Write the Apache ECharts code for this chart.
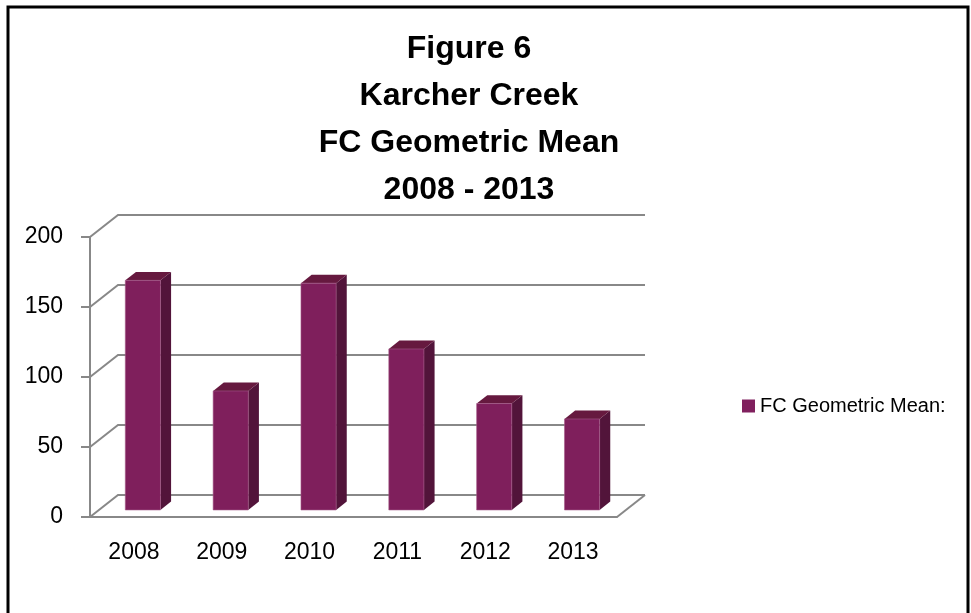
<!DOCTYPE html>
<meta charset="utf-8">
<style>
html, body { margin: 0; padding: 0; background: #fff; }
#main { width: 971px; height: 613px; }
</style>
<div id="main"></div>
<script src="https://cdn.jsdelivr.net/npm/echarts@6/dist/echarts.min.js"></script>
<script>

var years = ['2008', '2009', '2010', '2011', '2012', '2013'];
var fcMean = [164, 85, 162, 115, 76, 65];
var yTicks = [0, 50, 100, 150, 200];

// fake 3d: depth of the plot box in px, bar sits in the middle of it
var DX = 28, DY = -22;
var BAR_FROM = 0.32, BAR_DEPTH = 0.38;
var GRID_COLOR = '#888888';
var FONT = '"Liberation Sans", Arial, sans-serif';

function renderWall(params, api) {
    var v = api.value(1);
    var y = api.coord([0, v])[1];
    var cs = params.coordSys;
    var x0 = cs.x, x1 = cs.x + cs.width;
    var children = [{
        type: 'polyline',
        shape: { points: [[x0, y], [x0 + DX, y + DY], [x1 + DX, y + DY]] },
        style: { stroke: GRID_COLOR, lineWidth: 2, fill: null }
    }];
    if (v === 0) {
        children.push({
            type: 'line',
            shape: { x1: x1, y1: y, x2: x1 + DX, y2: y + DY },
            style: { stroke: GRID_COLOR, lineWidth: 2 }
        });
    }
    return { type: 'group', children: children };
}

function renderBar(params, api) {
    var i = api.value(0), v = api.value(1);
    var base = api.coord([i, 0]);
    var top = api.coord([i, v]);
    var band = api.size([1, 0])[0];
    var w = band * 0.4;
    var fx = base[0] + DX * BAR_FROM - w / 2;
    var fy0 = base[1] + DY * BAR_FROM;
    var fy1 = top[1] + DY * BAR_FROM;
    var bx = DX * BAR_DEPTH, by = DY * BAR_DEPTH;
    return {
        type: 'group',
        children: [{
            type: 'polygon',
            shape: { points: [[fx + w, fy1], [fx + w + bx, fy1 + by], [fx + w + bx, fy0 + by], [fx + w, fy0]] },
            style: { fill: '#52143a' }
        }, {
            type: 'polygon',
            shape: { points: [[fx, fy1], [fx + bx, fy1 + by], [fx + w + bx, fy1 + by], [fx + w, fy1]] },
            style: { fill: '#66193f' }
        }, {
            type: 'rect',
            shape: { x: fx, y: fy1, width: w, height: fy0 - fy1 },
            style: { fill: '#7f1f5c', stroke: '#a45a88', lineWidth: 0.6 }
        }]
    };
}

var chart = echarts.init(document.getElementById('main'));

chart.setOption({
    animation: false,
    backgroundColor: '#fff',
    title: {
        text: 'Figure 6\nKarcher Creek\nFC Geometric Mean\n2008 - 2013',
        left: 469,
        top: 26,
        textAlign: 'center',
        padding: 0,
        textStyle: {
            fontFamily: FONT,
            fontWeight: 'bold',
            fontSize: 32,
            lineHeight: 47,
            color: '#000'
        }
    },
    legend: {
        data: ['FC Geometric Mean:'],
        left: 742,
        top: 396,
        padding: 0,
        icon: 'rect',
        itemWidth: 13,
        itemHeight: 13,
        textStyle: { fontFamily: FONT, fontSize: 20, color: '#000' }
    },
    grid: {
        left: 90,
        right: 354,
        top: 237,
        bottom: 96
    },
    xAxis: {
        type: 'category',
        data: years,
        axisLine: { lineStyle: { color: GRID_COLOR, width: 2 } },
        axisTick: { length: 8, lineStyle: { color: GRID_COLOR, width: 2 } },
        axisLabel: { margin: 24, fontFamily: FONT, fontSize: 23, color: '#000' },
        splitLine: { show: false }
    },
    yAxis: {
        type: 'value',
        min: 0,
        max: 200,
        interval: 50,
        axisLine: { show: true, lineStyle: { color: GRID_COLOR, width: 2 } },
        axisTick: { show: true, length: 9, lineStyle: { color: GRID_COLOR, width: 2 } },
        axisLabel: { margin: 27, fontFamily: FONT, fontSize: 23, color: '#000' },
        splitLine: { show: false }
    },
    graphic: [{
        type: 'rect',
        shape: { x: 8, y: 7, width: 960, height: 620 },
        style: { fill: null, stroke: '#000', lineWidth: 3 },
        silent: true
    }],
    series: [
        {
            name: 'walls',
            type: 'custom',
            renderItem: renderWall,
            data: yTicks.map(function (v) { return [0, v]; }),
            clip: false,
            silent: true,
            z: 1
        },
        {
            name: 'FC Geometric Mean:',
            type: 'custom',
            renderItem: renderBar,
            itemStyle: { color: '#80205e' },
            data: fcMean.map(function (v, i) { return [i, v]; }),
            clip: false,
            z: 3
        }
    ]
});

</script>
